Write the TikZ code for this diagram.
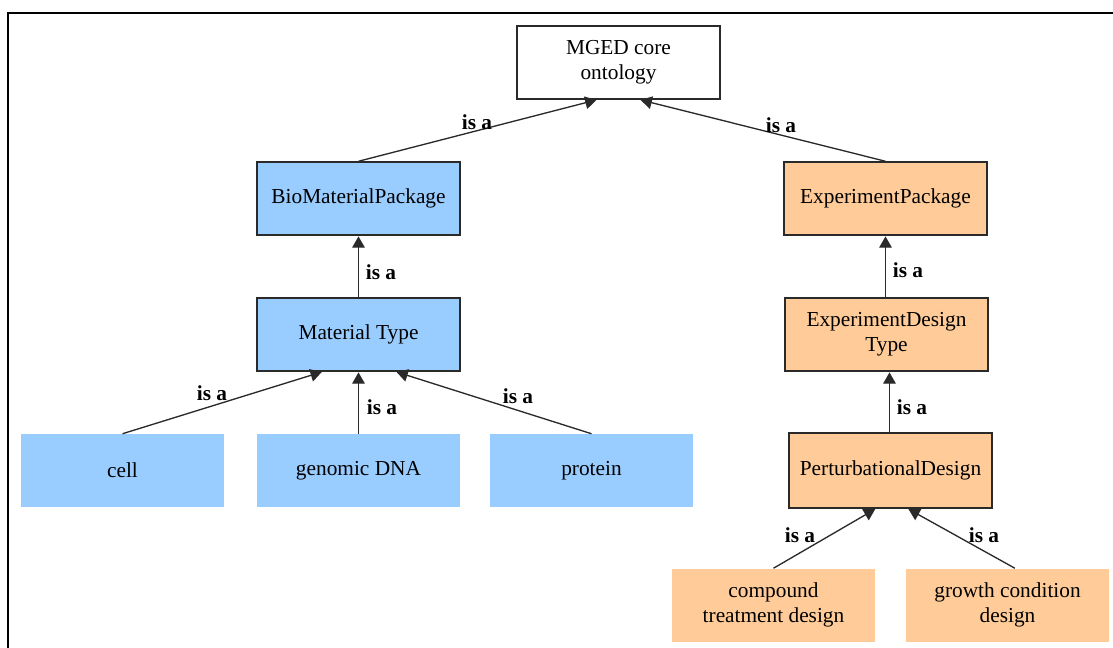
\documentclass[tikz,border=0pt]{standalone}
\usepackage{fontspec}
\setmainfont{Liberation Serif}
\usetikzlibrary{arrows.meta}
\definecolor{bluefill}{HTML}{99CCFF}
\definecolor{orangefill}{HTML}{FFCC99}
\definecolor{edgegray}{HTML}{2A2A2A}
\begin{document}
\begin{tikzpicture}[x=0.75pt,y=-0.75pt,
  box/.style={rectangle,minimum width=152.25pt,minimum height=54.75pt,inner sep=0pt,align=center,
    font=\fontsize{16}{18.5}\selectfont},
  framed/.style={box,draw=edgegray,line width=1.1pt},
  bluebox/.style={framed,fill=bluefill},
  orangebox/.style={framed,fill=orangefill},
  whitebox/.style={framed,fill=white},
  bluleaf/.style={box,fill=bluefill},
  orleaf/.style={box,fill=orangefill},
  isa/.style={-{Triangle[length=8.5pt,width=9.5pt]},draw=edgegray,line width=1pt,shorten >=0.5pt},
  lab/.style={font=\fontsize{16}{18.5}\selectfont\bfseries,inner sep=0pt}]
\useasboundingbox (0,0) rectangle (1113,648);
% frame
\draw[line width=2pt,black] (8,648) -- (8,13) -- (1113,13);
% nodes
\node[whitebox] (mged) at (618.5,62.5) {MGED core\\ontology};
\node[bluebox] (bio) at (358.5,198.5) {BioMaterialPackage};
\node[bluebox] (mt) at (358.5,334.5) {Material Type};
\node[bluleaf] (cell) at (122.5,470.5) {cell};
\node[bluleaf] (dna) at (358.5,470.5) {genomic DNA};
\node[bluleaf] (prot) at (591.5,470.5) {protein};
\node[orangebox] (exp) at (885.5,198.5) {ExperimentPackage};
\node[orangebox] (edt) at (886.5,334.5) {ExperimentDesign\\Type};
\node[orangebox,minimum height=56.25pt] (pd) at (890.5,470.5) {PerturbationalDesign};
\node[orleaf] (comp) at (773.5,605) {compound\\treatment design};
\node[orleaf] (grow) at (1007.5,605) {growth condition\\design};
% connectors
\draw[isa] (bio.north) -- ([xshift=-16pt]mged.south);
\draw[isa] (exp.north) -- ([xshift=16pt]mged.south);
\draw[isa] (mt.north) -- (bio.south);
\draw[isa] (cell.north) -- ([xshift=-27pt]mt.south);
\draw[isa] (dna.north) -- (dna.north |- mt.south);
\draw[isa] (prot.north) -- ([xshift=28pt]mt.south);
\draw[isa] (edt.north -| exp.north) -- (exp.south);
\draw[isa] ([xshift=2.25pt]edt.south |- pd.north) -- ([xshift=2.25pt]edt.south);
\draw[isa] (comp.north) -- ([xshift=-11pt]pd.south);
\draw[isa] ([xshift=5.5pt]grow.north) -- ([xshift=13pt]pd.south);
% labels
\node[lab] (l1) at (477,122) {is a};
\node[lab] (l2) at (781,125) {is a};
\node[lab] (l3) at (381,272) {is a};
\node[lab] (l4) at (212,393) {is a};
\node[lab] (l5) at (382,407) {is a};
\node[lab] (l6) at (518,396) {is a};
\node[lab] (l7) at (908,270) {is a};
\node[lab] (l8) at (912,407) {is a};
\node[lab] (l9) at (800,535) {is a};
\node[lab] (l10) at (984,535) {is a};
\end{tikzpicture}
\end{document}
